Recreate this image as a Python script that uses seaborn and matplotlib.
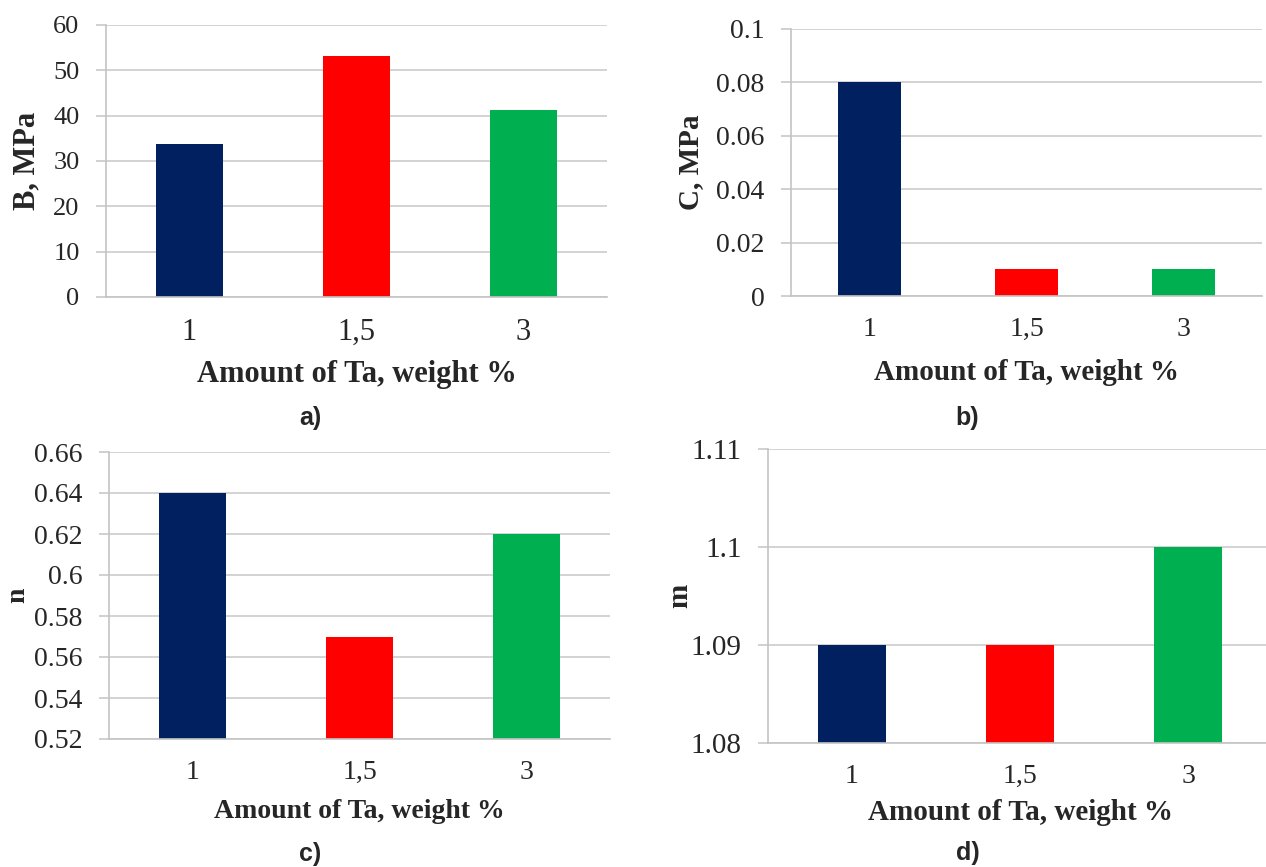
import numpy as np
import matplotlib
matplotlib.use("Agg")
import matplotlib.pyplot as plt
from matplotlib.ticker import FixedLocator, FuncFormatter
import seaborn as sns

# data
ta_amount = ["1", "1,5", "3"]
bar_colors = ["#002060", "#FF0000", "#00B050"]
b_mpa = [33.8, 53.1, 41.2]
c_mpa = [0.08, 0.01, 0.01]
n_vals = [0.64, 0.57, 0.62]
m_vals = [1.09, 1.09, 1.10]

b_ticks = [0, 10, 20, 30, 40, 50, 60]
c_ticks = [0, 0.02, 0.04, 0.06, 0.08, 0.1]
n_ticks = [0.52, 0.54, 0.56, 0.58, 0.6, 0.62, 0.64, 0.66]
m_ticks = [1.08, 1.09, 1.1, 1.11]

xlab = "Amount of Ta, weight %"

sns.set_style("white")
plt.rcParams["font.family"] = ["Liberation Serif", "DejaVu Serif"]

W, H = 1266, 867
fig = plt.figure(figsize=(W / 100, H / 100), dpi=100)

axis_col = "#C4C4C4"
grid_col = "#CCCCCC"


def px_axes(left, top, right, bottom):
    # pixel box -> figure fraction axes
    return fig.add_axes([left / W, 1 - bottom / H, (right - left) / W, (bottom - top) / H])


def panel(ax, vals, ticks, ylabel, ylab_x, xtick_size, ytick_size, xlab_y, lab_size):
    sns.barplot(x=ta_amount, y=vals, hue=ta_amount, palette=bar_colors, legend=False,
                width=0.4, saturation=1, linewidth=0, ax=ax)
    ax.set_xlim(-0.5, 2.5)
    ax.set_ylim(ticks[0], ticks[-1])
    ax.yaxis.set_major_locator(FixedLocator(ticks))
    ax.yaxis.set_major_formatter(FuncFormatter(lambda v, p: f"{round(v, 4):g}"))
    ax.set_xticks(range(3))
    ax.set_xticks([-0.5, 0.5, 1.5, 2.5], minor=True)
    ax.tick_params(axis="x", which="major", length=0, pad=15, labelsize=xtick_size,
                   labelfontfamily="Liberation Serif")
    ax.tick_params(axis="x", which="minor", length=7, width=1.1, color=axis_col, direction="out")
    ax.tick_params(axis="y", length=7, width=1.1, color=axis_col, direction="out", pad=12,
                   left=True, labelsize=ytick_size, labelfontfamily="Liberation Serif")
    ax.yaxis.grid(True, color=grid_col, lw=1.2)
    ax.set_axisbelow(True)
    for s in ["top", "right"]:
        ax.spines[s].set_visible(False)
    for s in ["left", "bottom"]:
        ax.spines[s].set_color(axis_col)
        ax.spines[s].set_linewidth(1.2)
    ax.set_xlabel(xlab, fontsize=lab_size, fontweight="bold", va="center")
    ax.xaxis.set_label_coords(0.5, xlab_y)
    ax.set_ylabel(ylabel, fontsize=lab_size, fontweight="bold", va="center")
    ax.yaxis.set_label_coords(ylab_x, 0.5)


ax_a = px_axes(106, 25, 607, 297)
panel(ax_a, b_mpa, b_ticks, "B, MPa", -0.158, 22, 19, (297 - 375) / 272, 22)

ax_b = px_axes(791, 29, 1262, 296)
panel(ax_b, c_mpa, c_ticks, "C, MPa", -0.214, 20, 20, (296 - 372) / 267, 21)

ax_c = px_axes(109, 452, 610, 739)
panel(ax_c, n_vals, n_ticks, "n", -0.182, 20, 20, (739 - 811) / 287, 20)

ax_d = px_axes(768, 449, 1272, 743)
panel(ax_d, m_vals, m_ticks, "m", -0.175, 20, 21, (743 - 813) / 294, 21)

letters = [("a)", 310, 418), ("b)", 967, 418), ("c)", 310, 854), ("d)", 968, 853)]
for txt, x, y in letters:
    fig.text(x / W, 1 - y / H, txt, ha="center", va="center", fontsize=18,
             fontweight="bold", family=["Liberation Sans", "DejaVu Sans"])

fig.savefig("out.png", dpi=100)
